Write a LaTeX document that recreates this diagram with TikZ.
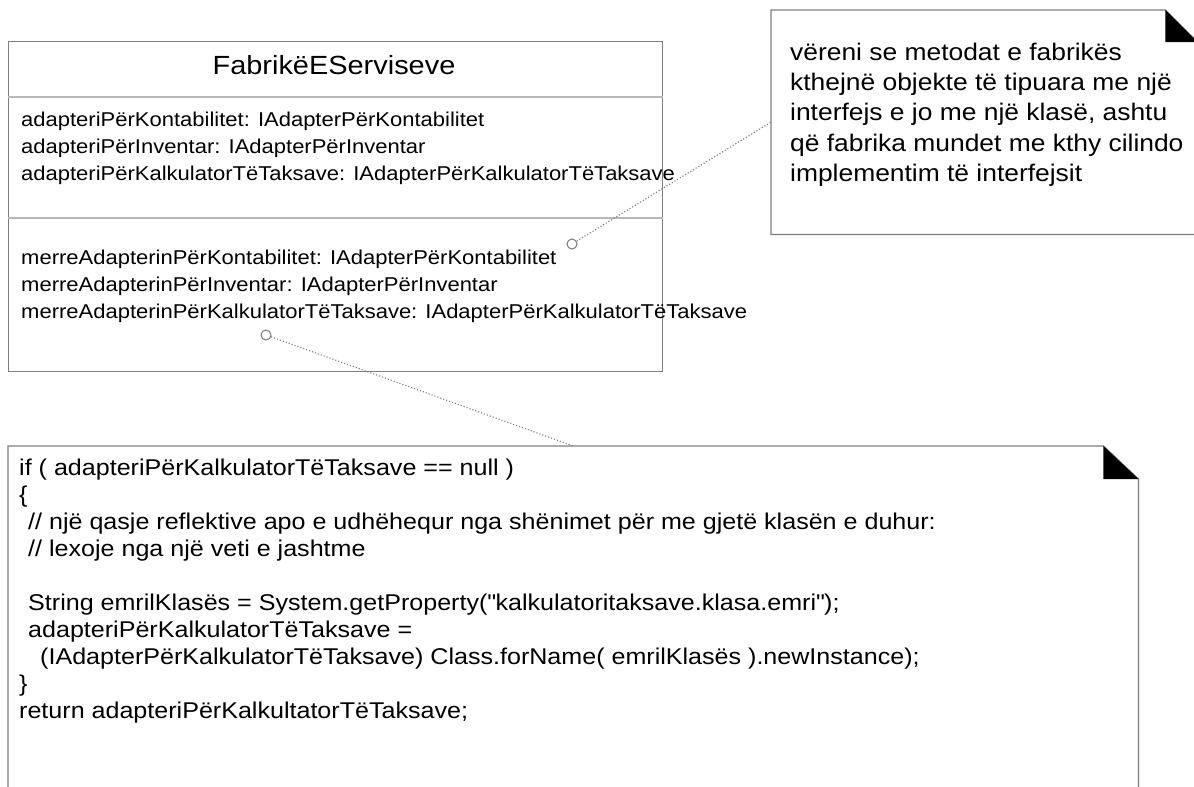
\documentclass[tikz,border=0pt]{standalone}
\usepackage{fontspec}
\setmainfont[FakeStretch=1.1]{Liberation Sans}
\newcommand{\classtxt}{\fontsize{20}{27.3}\selectfont}
\newcommand{\titletxt}{\fontsize{26.3}{30}\selectfont}
\newcommand{\notetxt}{\fontsize{24}{30.4}\selectfont}
\newcommand{\codetxt}{\fontsize{22.8}{27.1}\selectfont}
\definecolor{edge}{HTML}{7F7F7F}
\definecolor{divider}{HTML}{B8B8B8}
\definecolor{conncol}{HTML}{7A7A7A}
\begin{document}
\begin{tikzpicture}[x=1pt,y=-1pt,
  boxframe/.style={draw=edge,line width=1.3pt,inner sep=0pt,anchor=north west},
  notearea/.style={draw=none,inner sep=0pt,anchor=north west},
  txt/.style={inner sep=0pt,anchor=base west,align=left},
  lolly/.style={circle,draw=conncol,line width=1pt,inner sep=0pt,minimum size=10pt,fill=white},
  conn/.style={draw=conncol,line width=1.1pt,dotted},
  divline/.style={draw=divider,line width=1.3pt}]
\useasboundingbox (0,0) rectangle (1194,787);
\fill[white] (0,0) rectangle (1194,787);

% class box
\node[boxframe,minimum width=654pt,minimum height=330pt] (cls) at (8,41) {};
\draw[divline] (cls.west |- 0,97) -- (cls.east |- 0,97);
\draw[divline] (cls.west |- 0,218) -- (cls.east |- 0,218);
\node[inner sep=0pt,anchor=base] (title) at (334,74) {\titletxt FabrikëEServiseve};
\node[txt] (attrs) at (21,126) {\classtxt\begin{tabular}[t]{@{}l@{}}
adapteriPërKontabilitet: IAdapterPërKontabilitet\\
adapteriPërInventar: IAdapterPërInventar\\
adapteriPërKalkulatorTëTaksave: IAdapterPërKalkulatorTëTaksave
\end{tabular}};
\node[txt] (ops) at (21,264) {\classtxt\begin{tabular}[t]{@{}l@{}}
merreAdapterinPërKontabilitet: IAdapterPërKontabilitet\\
merreAdapterinPërInventar: IAdapterPërInventar\\
merreAdapterinPërKalkulatorTëTaksave: IAdapterPërKalkulatorTëTaksave
\end{tabular}};

% note 1
\node[notearea,minimum width=426pt,minimum height=224pt] (n1) at (771,10) {};
\draw[edge,line width=1.3pt] (n1.north west) -- ([xshift=-32pt]n1.north east) -- ([yshift=-32pt]n1.north east) -- (n1.south east) -- (n1.south west) -- cycle;
\fill[black] ([xshift=-32pt]n1.north east) -- ([xshift=-32pt,yshift=-32pt]n1.north east) -- ([yshift=-32pt]n1.north east) -- cycle;
\node[txt] (n1text) at (790,60) {\notetxt\begin{tabular}[t]{@{}l@{}}
vëreni se metodat e fabrikës\\
kthejnë objekte të tipuara me një\\
interfejs e jo me një klasë, ashtu\\
që fabrika mundet me kthy cilindo\\
implementim të interfejsit
\end{tabular}};

% note 2
\node[notearea,minimum width=1130pt,minimum height=360pt] (n2) at (8,446) {};
\draw[edge,line width=1.3pt] (n2.south west) -- (n2.north west) -- ([xshift=-35pt]n2.north east) -- ([yshift=-33pt]n2.north east) -- (n2.south east);
\fill[black] ([xshift=-35pt]n2.north east) -- ([xshift=-35pt,yshift=-33pt]n2.north east) -- ([yshift=-33pt]n2.north east) -- cycle;
\node[txt] (code) at (19,475) {\codetxt\begin{tabular}[t]{@{}l@{}}
if ( adapteriPërKalkulatorTëTaksave == null )\\
\{\\
\hspace*{9pt}// një qasje reflektive apo e udhëhequr nga shënimet për me gjetë klasën e duhur:\\
\hspace*{9pt}// lexoje nga një veti e jashtme\\
\\
\hspace*{9pt}String emrilKlasës = System.getProperty(\textquotedbl kalkulatoritaksave.klasa.emri\textquotedbl);\\
\hspace*{9pt}adapteriPërKalkulatorTëTaksave =\\
\hspace*{21pt}(IAdapterPërKalkulatorTëTaksave) Class.forName( emrilKlasës ).newInstance);\\
\}\\
return adapteriPërKalkultatorTëTaksave;
\end{tabular}};

% connectors with lollipop ends
\node[lolly] (o1) at (572,244) {};
\node[lolly] (o2) at (266,335) {};
\draw[conn] (o1) -- (n1.west);
\draw[conn] (o2) -- (n2.north);
\end{tikzpicture}
\end{document}
